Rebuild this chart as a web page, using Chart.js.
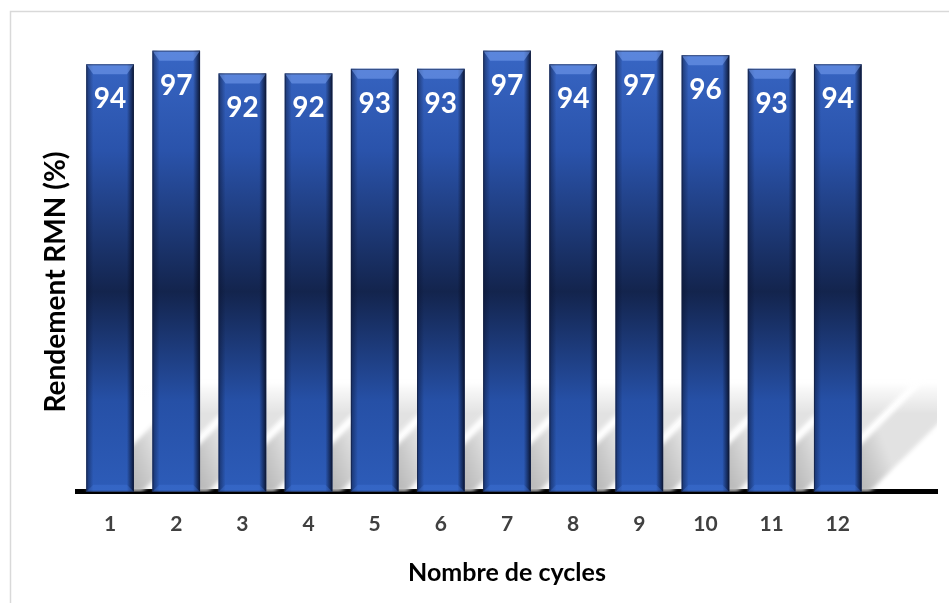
<!DOCTYPE html>
<html>
<head>
<meta charset="utf-8">
<script src="https://cdn.jsdelivr.net/npm/chart.js@4/dist/chart.umd.min.js"></script>
<style>
  html, body { margin: 0; padding: 0; background: #fff; }
  #wrap { width: 949px; height: 603px; position: relative; }
</style>
</head>
<body>
<div id="wrap"><canvas id="chart"></canvas></div>
<script>
const cycles = [1, 2, 3, 4, 5, 6, 7, 8, 9, 10, 11, 12];
const rendement = [94, 97, 92, 92, 93, 93, 97, 94, 97, 96, 93, 94];
const yTitle = 'Rendement RMN (%)';

const fontFamily = 'Lato, "Open Sans", sans-serif';

// grey slanted shadows lying behind the bars
const barShadows = {
  id: 'barShadows',
  beforeDatasetsDraw(chart) {
    const ctx = chart.ctx;
    const area = chart.chartArea;
    const bars = chart.getDatasetMeta(0).data;
    const h = 108;
    ctx.save();
    ctx.beginPath();
    ctx.rect(area.left, area.top, area.right - area.left, area.bottom - area.top);
    ctx.clip();
    ctx.filter = 'blur(2px)';
    bars.forEach(b => {
      const xl = b.x - b.width / 2, xr = b.x + b.width / 2;
      const g = ctx.createLinearGradient(xl, b.base, xr + 30, b.base - 30);
      g.addColorStop(0, '#b0b0b0');
      g.addColorStop(0.3, '#ececec');
      g.addColorStop(0.55, '#b8b8b8');
      g.addColorStop(0.8, '#cecece');
      g.addColorStop(1, '#e2e2e2');
      ctx.fillStyle = g;
      ctx.beginPath();
      ctx.moveTo(xl, b.base);
      ctx.lineTo(xr + 8, b.base);
      ctx.lineTo(xr + 8 + h, b.base - h);
      ctx.lineTo(xl + h, b.base - h);
      ctx.closePath();
      ctx.fill();
    });
    ctx.filter = 'none';
    // fade toward the top
    const base = bars[0].base;
    const fade = ctx.createLinearGradient(0, base - h - 2, 0, base - h + 30);
    fade.addColorStop(0, 'rgba(255,255,255,1)');
    fade.addColorStop(1, 'rgba(255,255,255,0)');
    ctx.fillStyle = fade;
    ctx.fillRect(area.left, base - h - 4, area.right - area.left, 34);
    ctx.restore();
  }
};

// bevel edges on every bar plus the value written inside
const barBevel = {
  id: 'barBevel',
  afterDatasetsDraw(chart) {
    const ctx = chart.ctx;
    const bars = chart.getDatasetMeta(0).data;
    ctx.save();
    bars.forEach((b, i) => {
      const xl = b.x - b.width / 2, xr = b.x + b.width / 2;
      const top = b.y, bot = b.base, e = 7;
      // left edge
      let g = ctx.createLinearGradient(xl, 0, xl + e, 0);
      g.addColorStop(0, 'rgba(10,20,50,0.55)');
      g.addColorStop(1, 'rgba(10,20,50,0)');
      ctx.fillStyle = g;
      ctx.fillRect(xl, top, e, bot - top);
      // right edge
      g = ctx.createLinearGradient(xr - e, 0, xr, 0);
      g.addColorStop(0, 'rgba(5,10,30,0)');
      g.addColorStop(1, 'rgba(5,10,30,0.85)');
      ctx.fillStyle = g;
      ctx.fillRect(xr - e, top, e, bot - top);
      // top bevel
      ctx.fillStyle = 'rgba(120,160,240,0.55)';
      ctx.beginPath();
      ctx.moveTo(xl, top);
      ctx.lineTo(xr, top);
      ctx.lineTo(xr - e, top + e + 3);
      ctx.lineTo(xl + e, top + e + 3);
      ctx.closePath();
      ctx.fill();
      // bottom bevel
      ctx.fillStyle = 'rgba(70,120,220,0.35)';
      ctx.beginPath();
      ctx.moveTo(xl, bot);
      ctx.lineTo(xr, bot);
      ctx.lineTo(xr - e, bot - e);
      ctx.lineTo(xl + e, bot - e);
      ctx.closePath();
      ctx.fill();
      ctx.strokeStyle = 'rgba(20,30,60,0.6)';
      ctx.lineWidth = 1;
      ctx.strokeRect(xl + 0.5, top + 0.5, b.width - 1, bot - top - 1);

      ctx.fillStyle = '#ffffff';
      ctx.font = 'bold 28px ' + fontFamily;
      ctx.textAlign = 'center';
      ctx.textBaseline = 'middle';
      ctx.fillText(String(rendement[i]), b.x, top + 35);
    });
    ctx.restore();
  }
};

// vertical axis title and thin grey frame around the whole chart
const frame = {
  id: 'frame',
  afterDraw(chart) {
    const ctx = chart.ctx;
    ctx.save();
    ctx.strokeStyle = '#d9d9d9';
    ctx.lineWidth = 1.5;
    ctx.strokeRect(10.5, 11.5, 970, 620);
    ctx.translate(56, 282);
    ctx.rotate(-Math.PI / 2);
    ctx.fillStyle = '#000000';
    ctx.font = 'bold 28px ' + fontFamily;
    ctx.textAlign = 'center';
    ctx.textBaseline = 'middle';
    ctx.fillText(yTitle, 0, 0);
    ctx.restore();
  }
};

new Chart(document.getElementById('chart'), {
  type: 'bar',
  data: {
    datasets: [{
      data: cycles.map((c, i) => ({ x: c, y: rendement[i] })),
      barPercentage: 0.9,
      categoryPercentage: 0.8,
      backgroundColor: ctx => {
        const area = ctx.chart.chartArea;
        if (!area) return '#2a55b0';
        const g = ctx.chart.ctx.createLinearGradient(0, area.top, 0, area.bottom);
        g.addColorStop(0, '#3a69c8');
        g.addColorStop(0.25, '#2a53ab');
        g.addColorStop(0.56, '#13244d');
        g.addColorStop(0.8, '#2650a6');
        g.addColorStop(1, '#2d5cb9');
        return g;
      },
      borderWidth: 0
    }]
  },
  options: {
    responsive: true,
    maintainAspectRatio: false,
    animation: false,
    layout: { padding: { left: 77, right: 12, top: 37, bottom: 15 } },
    plugins: {
      legend: { display: false },
      tooltip: { enabled: false }
    },
    scales: {
      x: {
        type: 'linear',
        min: 0.5,
        max: 13.5,
        offset: false,
        afterBuildTicks: scale => {
          scale.ticks = cycles.map(v => ({ value: v }));
        },
        grid: { display: false },
        border: { display: true, color: '#000000', width: 5 },
        ticks: {
          padding: 12,
          color: '#404040',
          font: { family: fontFamily, size: 21, weight: 'bold' }
        },
        title: {
          display: true,
          text: 'Nombre de cycles',
          color: '#000000',
          padding: { top: 9, bottom: 0 },
          font: { family: fontFamily, size: 25, weight: 'bold' }
        }
      },
      y: {
        display: false,
        min: 0,
        max: 100
      }
    }
  },
  plugins: [barShadows, barBevel, frame]
});
</script>
</body>
</html>
